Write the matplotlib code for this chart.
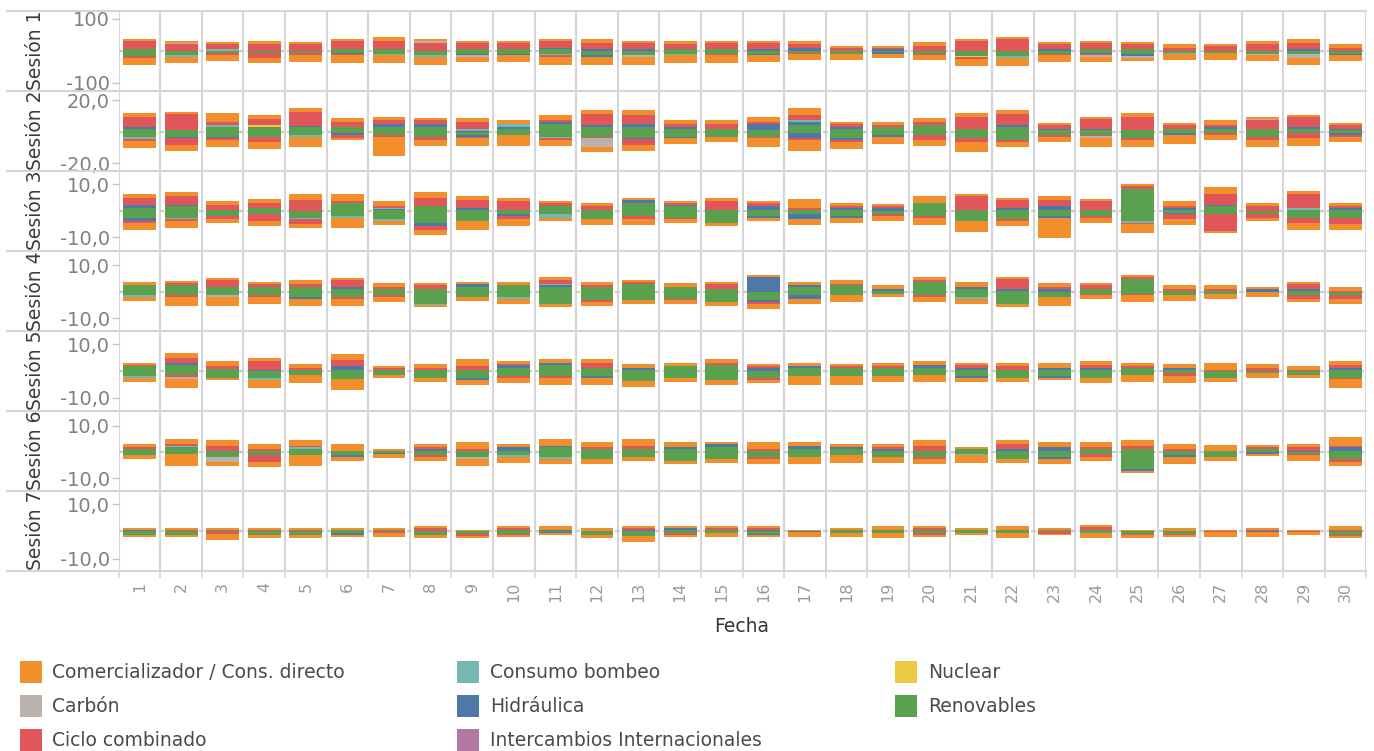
import numpy as np
import matplotlib
matplotlib.use("Agg")
import matplotlib.pyplot as plt
from matplotlib.lines import Line2D
from matplotlib.patches import Rectangle

# ---------------- data ----------------
DAYS = list(range(1, 31))
SESSIONS = ["Sesión 1", "Sesión 2", "Sesión 3", "Sesión 4", "Sesión 5", "Sesión 6", "Sesión 7"]

LEGEND_ORDER = ["Comercializador / Cons. directo", "Carbón", "Ciclo combinado",
                "Consumo bombeo", "Hidráulica", "Intercambios Internacionales",
                "Nuclear", "Renovables"]
COLORS = {
    "Comercializador / Cons. directo": "#F28E2B",
    "Carbón": "#BAB0AC",
    "Ciclo combinado": "#E15759",
    "Consumo bombeo": "#76B7B2",
    "Hidráulica": "#4E79A7",
    "Intercambios Internacionales": "#B07AA1",
    "Nuclear": "#EDC948",
    "Renovables": "#59A14F",
}
# stacking order from the zero line outwards
STACK_ORDER = ["Renovables", "Nuclear", "Hidráulica", "Consumo bombeo",
               "Ciclo combinado", "Carbón", "Comercializador / Cons. directo"]

Y_TICKS = [(-100, 100), (-20, 20), (-10, 10), (-10, 10), (-10, 10), (-10, 10), (-10, 10)]
Y_TICK_LABELS = [("-100", "100"), ("-20,0", "20,0"), ("-10,0", "10,0"), ("-10,0", "10,0"),
                 ("-10,0", "10,0"), ("-10,0", "10,0"), ("-10,0", "10,0")]

# one row per session (7), one value per day (30); positive and negative parts
REN_POS = [
    [5, 0, 0, 0, 0, 5, 5, 0, 5, 5, 5, 0, 0, 5, 5, 0, 0, 0, 0, 0, 0, 0, 0, 5, 5, 0, 0, 0, 0, 0],
    [1.7, 1.3, 2.9, 2.9, 2.9, 2.9, 2.9, 2.9, 0, 1.7, 4.8, 2.9, 2.9, 1.7, 1.7, 1.0, 4.2, 1.7, 2.9, 4.2, 1.7, 2.9, 1.0, 1.0, 1.0, 1.7, 1.7, 1.7, 1.7, 1.0],
    [1.0, 1.75, 0.25, 1.0, 0, 2.9, 0.25, 1.75, 0.25, 0.25, 1.75, 0.25, 2.9, 1.75, 0.25, 0.25, 0.25, 0.25, 0, 2.9, 0.25, 0.25, 0.25, 0.25, 8.1, 0.25, 1.75, 0, 0.25, 0.25],
    [2.5, 2.5, 1.75, 1.75, 1.75, 1.0, 1.0, 1.0, 1.75, 2.5, 1.75, 1.75, 2.9, 1.75, 1.0, 0, 1.75, 2.5, 0.25, 3.6, 1.0, 0.25, 0, 1.0, 4.75, 0.25, 0.25, 0, 0.25, 0],
    [1.9, 2.25, 0.75, 0, 0.4, 0.4, 0.4, 0.4, 0.4, 1.1, 2.25, 1.1, 0.4, 1.9, 2.25, 0, 1.1, 1.1, 1.1, 1.1, 0.4, 0.4, 0.4, 0.4, 1.1, 0.4, 0, 0, 0, 0.4],
    [1.1, 1.9, 0.4, 0.4, 1.1, 0.4, 0.4, 0.4, 0.4, 0.4, 1.9, 1.1, 1.1, 1.1, 1.9, 0.4, 1.1, 1.1, 0.4, 0.4, 1.1, 0.4, 0.4, 1.1, 1.1, 0.4, 0.4, 1.1, 0, 0.4],
    [0, 0, 0, 0, 0, 0.5, 0, 0, 0, 0.5, 0, 0, 0, 0.5, 0.5, 0, 0, 0.5, 0.5, 0.5, 0.5, 0.5, 0, 0.5, 0, 0, 0, 0, 0, 0],
]
REN_NEG = [
    [16, 15, 8, 8, 8, 6, 9, 15, 10, 10, 10, 15, 15, 10, 10, 9, 6, 9, 5, 9, 16, 16, 9, 7, 10, 6, 6, 9, 9, 9],
    [3.6, 3.2, 3.2, 3.4, 2.1, 0.8, 2.1, 3.4, 2.1, 2.1, 3.4, 3.4, 4.0, 3.4, 3.4, 3.4, 0.8, 4.0, 2.1, 2.1, 4.0, 5.3, 2.1, 2.1, 4.0, 0.8, 1.0, 3.4, 0.8, 0.8],
    [2.75, 2.75, 2.0, 1.25, 2.6, 2.0, 3.1, 4.6, 3.9, 1.25, 1.25, 3.1, 2.0, 2.75, 4.6, 2.0, 1.25, 2.0, 1.25, 2.0, 3.9, 3.1, 2.0, 2.0, 3.9, 0.9, 1.25, 1.25, 2.75, 2.75],
    [1.25, 1.25, 1.25, 1.25, 2.0, 2.0, 1.25, 4.6, 2.0, 2.0, 4.6, 3.1, 3.1, 2.75, 3.9, 3.1, 1.25, 1.25, 0.9, 1.25, 2.0, 4.6, 2.0, 0.9, 0.9, 1.25, 0.9, 0, 1.25, 1.25],
    [1.9, 1.5, 2.6, 2.6, 1.5, 3.0, 1.5, 2.6, 2.6, 1.9, 1.9, 1.9, 3.75, 2.6, 3.4, 2.6, 1.9, 1.9, 1.9, 1.5, 1.9, 2.6, 1.9, 2.6, 1.5, 0.75, 2.6, 0.75, 1.5, 2.6],
    [1.1, 0.75, 1.9, 1.1, 1.1, 1.1, 0.4, 1.1, 1.9, 1.1, 1.9, 2.6, 1.9, 3.4, 2.6, 1.9, 1.9, 1.1, 1.9, 1.9, 0.75, 2.6, 1.9, 0.75, 6.4, 1.1, 1.9, 0, 0.75, 2.6],
    [1.4, 1.4, 0.4, 1.4, 1.4, 0.6, 0.4, 1.4, 1.0, 1.0, 0.4, 1.4, 1.75, 0.6, 0.6, 1.0, 0, 0.6, 0.6, 0.6, 0.6, 0.6, 0.4, 0.6, 1.1, 1.0, 0, 0, 0, 1.4],
]
NUC_POS = [
    [0] * 30,
    [0, 0, 0, 1.3, 0, 0, 0, 0, 0, 0, 0, 0, 0, 0, 0, 0, 0, 0, 0, 0, 0, 0, 0, 0, 0, 0, 0, 0, 0, 0],
    [0] * 30, [0] * 30, [0] * 30, [0] * 30, [0] * 30,
]
NUC_NEG = [
    [0, 0, 0, 0, 0, 0, 0, 0, 0, 0, 0, 0, 0, 0, 0, 0, 0, 0, 0, 0, 4, 0, 0, 0, 0, 0, 0, 0, 0, 0],
    [0] * 30, [0] * 30, [0] * 30, [0] * 30, [0] * 30, [0] * 30,
]
HID_POS = [
    [0, 0, 0, 0, 0, 0, 0, 0, 0, 0, 4, 5, 5, 0, 0, 5, 8, 0, 5, 0, 0, 0, 5, 0, 0, 0, 0, 0, 5, 0],
    [1.3, 0, 0, 0, 0.6, 0, 1.9, 1.9, 0.6, 1.3, 1.3, 1.3, 1.9, 1.3, 0, 3.8, 1.9, 1.3, 0, 0, 0, 1.3, 0.6, 0.6, 0, 0, 1.3, 0, 1.3, 0.6],
    [1.1, 0.4, 0, 0, 0, 0, 0.4, 0, 0.75, 0, 0, 0, 1.1, 0.4, 0, 1.5, 0, 0.75, 1.0, 0, 0, 0.75, 1.5, 0, 0, 0.75, 0.4, 0, 0, 0.75],
    [0, 0, 0, 0, 0, 0.75, 0, 0, 1.1, 0, 0.75, 0, 0, 0, 0, 5.5, 0.75, 0, 0.75, 0, 0.75, 0.75, 1.0, 0, 0, 0, 0, 1.0, 0.75, 0],
    [0, 0.75, 0, 0.4, 0, 1.5, 0, 0, 0, 1.1, 0.75, 0, 0.75, 0, 0, 1.1, 0.75, 0, 0, 1.1, 0.75, 0, 0.75, 0.75, 0, 0.75, 0, 0, 0, 0.75],
    [0, 0, 0, 0, 0, 0, 0, 0.75, 0, 1.5, 0.4, 0, 0, 0.75, 1.1, 0, 1.1, 0.75, 0.75, 0, 0, 0.75, 1.5, 0, 0, 0, 0, 0, 0.4, 1.5],
    [0.5, 0, 0, 0, 0, 0, 0, 0, 0, 0, 0.5, 0, 0.5, 0.75, 0, 0.5, 0, 0, 0, 0, 0, 0, 0, 0, 0, 0, 0, 0, 0, 0],
]
HID_NEG = [
    [0, 0, 0, 0, 0, 3, 0, 0, 5, 5, 0, 5, 0, 0, 0, 5, 0, 0, 4, 0, 0, 0, 0, 2, 6, 0, 0, 0, 0, 6],
    [0, 0.6, 0.8, 0, 0, 1.3, 0, 0, 1.3, 0, 0, 0, 0.6, 0.6, 0, 0, 3.2, 1.3, 1.3, 0, 0, 0, 0, 0, 0, 1.3, 0, 0, 0, 1.3],
    [1.1, 0, 0, 0, 0, 0, 0, 1.1, 0, 0.75, 0, 0, 0, 0, 0, 0.75, 1.9, 0.75, 0, 0, 0, 0, 0.75, 0, 0, 0.4, 0, 0, 0, 0],
    [0, 0, 0, 0, 0.75, 0, 0, 0, 0, 0, 0, 0, 0, 0, 0, 0.75, 1.5, 0, 0, 0, 0, 0, 0, 0, 0, 0, 0, 0, 0, 0],
    [0, 0, 0, 0, 0, 0, 0, 0, 0.75, 0, 0, 0.75, 0, 0, 0, 0, 0, 0, 0, 0, 0.75, 0, 0.75, 0, 0, 0, 0, 0, 0, 0],
    [0, 0, 0, 0, 0, 0.75, 0.4, 0, 0, 0, 0, 0, 0, 0, 0, 0, 0, 0, 0, 0, 0, 0, 0.75, 0, 0.75, 0.75, 0, 0.75, 0, 0],
    [0, 0, 0, 0, 0, 0.75, 0, 0, 0, 0, 0.25, 0, 0, 0, 0, 0.4, 0.4, 0, 0, 0, 0, 0, 0, 0, 0, 0, 0, 0.4, 0, 0],
]
BOM_POS = [
    [0, 0, 5, 0, 0, 0, 0, 0, 0, 0, 0, 0, 0, 0, 0, 0, 0, 0, 0, 0, 0, 0, 0, 0, 0, 0, 0, 0, 0, 0],
    [0, 0, 1.3, 0, 0, 0, 0, 0, 1.0, 1.9, 0, 0, 0, 0, 0, 0, 1.3, 0, 0, 0, 0, 0, 0, 0, 0, 0, 0, 0, 0, 0],
    [0, 0, 0, 0, 0, 0, 0.4, 0, 0, 0, 0, 0, 0, 0, 0, 0, 0, 0, 0, 0, 0, 0, 0, 0, 0, 0, 0, 0, 0.75, 0],
    [0, 0, 0, 0, 0, 0, 0, 0, 0, 0, 0.4, 0, 0, 0, 0, 0, 0, 0, 0, 0, 0, 0, 0, 0, 0, 0, 0, 0, 0, 0],
    [0] * 30,
    [0, 0.4, 0, 0, 0.75, 0, 0, 0, 0, 0, 0, 0, 0, 0, 0, 0, 0, 0, 0, 0, 0, 0, 0, 0, 0, 0, 0, 0, 0, 0],
    [0] * 30,
]
BOM_NEG = [
    [0, 6, 0, 0, 0, 0, 6, 6, 0, 0, 5, 0, 0, 5, 0, 0, 0, 0, 0, 0, 0, 6, 0, 0, 0, 3, 0, 0, 0, 0],
    [1.0, 0, 0, 0, 1.3, 0, 0, 0, 0, 0, 0.6, 0, 0, 0, 0, 0, 0, 0, 0, 0, 0, 0, 0, 0, 0, 0, 0, 0, 0, 0],
    [0, 0.4, 0, 0, 0.4, 0.75, 0.75, 0, 0, 0, 1.5, 0, 0, 0, 0, 0, 0, 0, 0, 0, 0, 0, 0, 0, 0.75, 0, 0, 0, 0, 0],
    [0.75, 0, 0, 0, 0, 0, 0, 0.4, 0, 0.75, 0, 0, 0, 0, 0, 0, 0, 0, 0, 0, 0.75, 0, 0, 0, 0, 0, 0, 0, 0, 0],
    [0.75, 0, 0, 0.75, 0, 0, 0, 0, 0, 0, 0, 0, 0, 0, 0, 0, 0, 0, 0, 0, 0, 0, 0, 0, 0, 0, 0, 0, 0, 0],
    [0, 0, 0, 0, 0, 0, 0, 0, 0, 0.75, 0.75, 0, 0, 0, 0, 0, 0, 0, 0, 0, 0.4, 0, 0, 0, 0, 0, 0, 0, 0, 0],
    [0] * 30,
]
CC_POS = [
    [25, 21, 16, 21, 21, 25, 25, 24, 19, 19, 21, 19, 19, 16, 19, 19, 13, 8, 3, 15, 30, 37, 16, 19, 16, 8, 15, 21, 19, 8],
    [6.3, 9.9, 1.9, 3.8, 8.8, 3.2, 2.5, 2.5, 4.4, 0, 1.3, 6.9, 5.7, 1.9, 3.2, 1.3, 3.2, 1.9, 1.3, 1.9, 7.6, 6.9, 2.5, 6.3, 8.2, 2.5, 1.3, 5.7, 6.3, 2.5],
    [2.6, 3.4, 1.9, 1.9, 4.0, 0.75, 0.75, 3.0, 3.0, 3.4, 1.1, 1.5, 0, 0.75, 3.4, 1.1, 0.75, 0.75, 0.75, 0, 5.25, 3.0, 2.25, 3.4, 1.1, 0.75, 4.1, 1.75, 5.25, 0.75],
    [0, 0.75, 2.6, 1.1, 1.1, 2.6, 0.75, 1.5, 0, 0, 1.5, 0.75, 0.75, 0, 1.9, 0, 0, 0.4, 0, 0.75, 0, 3.75, 0.75, 1.5, 0.75, 0.75, 0.75, 0, 1.9, 0.25],
    [0.4, 1.9, 1.1, 3.4, 0.75, 2.25, 0.75, 0.75, 1.5, 0.4, 0, 1.9, 0, 0, 0.75, 0.75, 0, 0.75, 0.75, 0, 1.1, 1.5, 0, 1.1, 0.75, 0, 0.4, 1.1, 0.4, 1.1],
    [0.75, 0.75, 1.9, 0.75, 0.4, 0, 0, 0.75, 0.75, 0, 0, 0.75, 1.1, 0, 0, 0.75, 0, 0, 0.75, 1.9, 0, 1.9, 0, 0.75, 1.1, 0.75, 0, 0.75, 1.5, 0.4],
    [0, 0.5, 0.5, 0.5, 0.5, 0, 0.5, 1.25, 0, 0.75, 0, 0, 0.75, 0, 0.75, 0.75, 0, 0, 0, 0.75, 0, 0, 0.5, 1.1, 0, 0, 0, 0.5, 0, 0.5],
]
CC_NEG = [
    [6, 0, 6, 14, 4, 6, 0, 0, 0, 0, 6, 0, 0, 0, 5, 0, 3, 0, 0, 6, 5, 0, 6, 4, 0, 0, 0, 0, 0, 0],
    [1.3, 4.6, 1.3, 3.2, 0, 1.9, 1.3, 1.9, 0.6, 0, 1.3, 0.6, 3.8, 0, 0, 0.6, 1.3, 1.3, 0, 3.2, 2.5, 1.3, 1.3, 0.6, 1.3, 0, 1.0, 1.9, 3.2, 1.3],
    [0.75, 0.75, 1.1, 2.6, 1.9, 0, 0, 1.5, 0, 1.1, 0, 0, 1.1, 0.4, 0, 0, 0, 0, 0.75, 0.75, 0, 0.75, 0, 0.75, 0.4, 1.9, 6.4, 1.5, 1.9, 2.25],
    [0, 0.75, 0, 0.75, 0, 0.75, 0.75, 0, 0, 0, 0, 0.75, 0, 0.4, 0, 0.75, 0, 0, 0, 0.75, 0, 0, 0, 0.4, 0.4, 0, 0, 0, 1.5, 1.5],
    [0, 0.75, 0, 0, 0, 0, 0, 0, 0, 0.75, 0.75, 0, 0, 0, 0, 0.75, 0, 0, 0, 0, 0, 0, 0, 0, 0, 1.1, 0, 0, 0, 0.4],
    [0, 0, 0, 2.6, 0, 0, 0, 0.75, 0, 0, 0, 0, 0, 0, 0, 0.75, 0, 0, 0, 0.75, 0, 0, 0, 1.1, 0, 0, 0, 0, 0.4, 1.1],
    [0, 0, 0.6, 0, 0, 0, 0.25, 0, 0.75, 0.4, 0, 0, 0, 0.75, 0, 0, 0, 0, 0, 0.75, 0, 0, 0.4, 0, 0.4, 0.4, 0.4, 0, 0.4, 0.4],
]
CAR_POS = [
    [0, 3, 0, 0, 0, 0, 0, 6, 0, 0, 0, 0, 0, 0, 0, 0, 0, 0, 0, 0, 0, 0, 0, 0, 0, 0, 0, 0, 0, 0],
    [0, 0, 0, 0, 0, 0, 0, 0, 0, 0, 0, 0, 0, 0, 0, 0, 0, 0, 0, 0, 0, 0, 0, 0, 0, 0, 0, 0.6, 0, 0],
    [0] * 30, [0] * 30, [0] * 30, [0] * 30, [0] * 30,
]
CAR_NEG = [
    [0, 0, 0, 0, 0, 0, 0, 0, 6, 0, 0, 0, 6, 0, 0, 0, 0, 0, 0, 0, 0, 0, 0, 6, 6, 0, 0, 6, 13, 0],
    [0, 0, 0, 0, 0, 0, 0, 0, 0, 0, 0, 5.7, 0, 0, 0, 0, 0, 0, 0, 0, 0, 0, 0, 1.0, 0, 0, 0, 0, 0, 0],
    [0] * 30,
    [0, 0, 0.75, 0, 0, 0, 0, 0, 0, 0, 0, 0, 0, 0, 0, 0, 0, 0, 0, 0, 0, 0, 0, 0, 0, 0, 0, 0, 0, 0],
    [0, 0.75, 0, 0, 0, 0, 0, 0, 0, 0, 0, 0, 0, 0, 0, 0, 0, 0, 0, 0, 0, 0, 0, 0, 0, 0, 0, 0, 0, 0],
    [0, 0, 1.9, 0, 0, 0, 0, 0, 0.75, 0, 0, 0, 0, 0, 0, 0, 0, 0, 0, 0, 0, 0, 0, 0, 0, 0, 0, 0, 0, 0],
    [0] * 30,
]
COM_POS = [
    [6, 6, 6, 9, 6, 6, 13, 6, 6, 6, 6, 13, 6, 9, 6, 6, 9, 6, 6, 13, 6, 6, 6, 6, 6, 13, 6, 9, 13, 13],
    [2.3, 1.3, 5.5, 2.5, 2.5, 2.5, 1.9, 1.3, 2.5, 2.5, 3.2, 2.5, 3.2, 2.5, 2.5, 3.2, 4.4, 1.3, 1.9, 2.5, 2.5, 2.5, 1.3, 1.3, 2.5, 1.3, 3.2, 1.3, 1.3, 1.3],
    [1.5, 1.5, 1.5, 1.5, 2.25, 2.6, 1.9, 2.25, 1.5, 1.1, 0.75, 1.1, 0.75, 0.75, 1.1, 0.75, 3.4, 1.1, 0.75, 2.6, 0.75, 0.75, 1.5, 0.75, 0.75, 1.9, 2.6, 1.1, 1.1, 1.1],
    [1.1, 0.75, 0.75, 0.75, 1.5, 0.75, 1.5, 0.75, 0.75, 1.1, 1.1, 1.1, 0.75, 1.5, 0.75, 0.75, 1.1, 1.5, 1.5, 1.1, 1.9, 0.75, 1.5, 0.75, 0.75, 1.5, 1.5, 0.75, 0.75, 1.5],
    [0.75, 1.9, 1.9, 1.1, 1.5, 2.25, 0.75, 1.5, 2.6, 1.1, 1.5, 1.5, 1.5, 1.1, 1.5, 0.75, 1.1, 0.75, 1.1, 1.5, 0.75, 1.1, 1.9, 1.5, 1.1, 1.5, 2.6, 1.5, 1.5, 1.5],
    [1.1, 1.9, 2.25, 1.9, 2.25, 2.6, 0.75, 1.1, 2.6, 1.1, 2.6, 1.9, 2.6, 1.9, 0.75, 2.6, 1.5, 1.1, 1.1, 2.25, 0.75, 1.5, 1.9, 1.9, 2.25, 1.9, 2.25, 0.75, 1.1, 3.4],
    [0.75, 0.75, 0.75, 0.75, 0.75, 0.75, 0.75, 0.75, 0.4, 0.75, 1.5, 1.25, 0.75, 0.75, 0.75, 0.75, 0.5, 0.75, 1.5, 0.75, 0.75, 1.5, 0.75, 0.75, 0.5, 1.25, 0.5, 0.75, 0.5, 1.5],
]
COM_NEG = [
    [23, 17, 17, 16, 23, 23, 23, 23, 16, 22, 23, 24, 23, 23, 23, 23, 19, 19, 13, 13, 22, 25, 22, 16, 9, 19, 22, 16, 22, 16],
    [4.6, 3.8, 4.4, 4.4, 6.3, 1.3, 12.0, 3.8, 5.0, 6.9, 3.8, 3.2, 3.8, 3.8, 3.2, 5.7, 6.9, 4.4, 4.4, 3.8, 6.3, 3.2, 3.2, 5.9, 4.4, 5.7, 3.2, 4.4, 5.0, 3.2],
    [2.6, 2.6, 1.5, 1.9, 1.5, 3.75, 1.5, 1.9, 3.4, 2.6, 1.1, 2.25, 2.25, 1.5, 1.1, 1.1, 2.25, 1.9, 1.9, 2.6, 4.1, 1.9, 7.5, 1.9, 3.4, 2.25, 0.75, 1.1, 2.6, 2.25],
    [1.5, 3.4, 3.4, 2.6, 2.6, 2.6, 1.9, 0.75, 1.5, 1.9, 1.1, 1.5, 1.5, 1.5, 1.5, 1.9, 1.9, 2.6, 1.1, 1.9, 1.9, 1.1, 3.4, 1.5, 2.6, 2.25, 1.9, 2.0, 1.1, 1.9],
    [1.5, 3.4, 0.75, 3.0, 3.0, 4.1, 1.1, 1.5, 1.9, 1.9, 2.6, 2.6, 2.25, 1.5, 1.9, 1.1, 3.4, 3.4, 2.25, 2.6, 1.5, 1.5, 0.75, 1.9, 2.6, 2.6, 1.5, 1.9, 1.1, 3.4],
    [1.5, 4.5, 1.5, 2.25, 4.1, 1.5, 1.5, 1.5, 2.6, 2.25, 1.9, 1.9, 1.5, 1.1, 1.5, 1.9, 2.6, 3.0, 2.25, 1.9, 3.0, 1.5, 1.9, 1.5, 0.75, 2.6, 1.5, 0.75, 2.25, 1.5],
    [0.75, 0.75, 2.25, 1.1, 1.1, 0.75, 1.5, 1.1, 0.75, 0.75, 0.75, 1.1, 2.25, 0.75, 1.5, 0.75, 1.5, 1.5, 1.9, 0.75, 0.75, 1.9, 0.4, 1.9, 0.75, 0.75, 1.5, 1.5, 0.75, 0.75],
]

POS = {"Renovables": REN_POS, "Nuclear": NUC_POS, "Hidráulica": HID_POS,
       "Consumo bombeo": BOM_POS, "Ciclo combinado": CC_POS, "Carbón": CAR_POS,
       "Comercializador / Cons. directo": COM_POS}
NEG = {"Renovables": REN_NEG, "Nuclear": NUC_NEG, "Hidráulica": HID_NEG,
       "Consumo bombeo": BOM_NEG, "Ciclo combinado": CC_NEG, "Carbón": CAR_NEG,
       "Comercializador / Cons. directo": COM_NEG}

# ---------------- layout / style ----------------
W, H = 1374, 751
L_PX, R_PX = 118.7, 1366.3
TOP_PX, ROW_H = 10.7, 80.0
Y_LIMS = [(-125.6, 125.6), (-24.6, 25.9), (-15.0, 15.0), (-14.8, 15.6),
          (-14.9, 15.0), (-14.8, 15.7), (-14.4, 14.9)]
GRID = "#d6d6d6"
BAR_W = 0.79

plt.rcParams["font.family"] = ["DejaVu Sans"]
fig = plt.figure(figsize=(W / 100, H / 100), dpi=100)

for i in range(7):
    top = TOP_PX + i * ROW_H
    ax = fig.add_axes([L_PX / W, 1 - (top + ROW_H) / H, (R_PX - L_PX) / W, ROW_H / H])
    ax.set_xlim(0.5, 30.5)
    ax.set_ylim(*Y_LIMS[i])
    for s in ax.spines.values():
        s.set_visible(False)
    for k in range(31):
        ax.axvline(0.5 + k, color=GRID, lw=1.5, zorder=0)
    ax.axhline(0, color="#cbcbcb", lw=1.6, ls=(0, (2.2, 1.4)), zorder=0.5)

    pos_base = np.zeros(30)
    neg_base = np.zeros(30)
    for cat in STACK_ORDER:
        p = np.array(POS[cat][i], dtype=float)
        n = np.array(NEG[cat][i], dtype=float)
        assert len(p) == 30 and len(n) == 30, (cat, i)
        ax.bar(DAYS, p, bottom=pos_base, width=BAR_W, color=COLORS[cat], lw=0, zorder=2)
        ax.bar(DAYS, -n, bottom=-neg_base, width=BAR_W, color=COLORS[cat], lw=0, zorder=2)
        pos_base += p
        neg_base += n

    ax.set_yticks(list(Y_TICKS[i]))
    ax.set_yticklabels(list(Y_TICK_LABELS[i]))
    ax.tick_params(axis="y", length=5, width=1, color="#c4c4c4",
                   labelcolor="#808080", labelsize=14, pad=1.5)

    if i < 6:
        ax.set_xticks([])
    else:
        ax.set_xticks([0.5 + k for k in range(31)])
        ax.set_xticklabels([])
        ax.tick_params(axis="x", which="major", length=5, width=1.2, color=GRID)
        ax.set_xticks(DAYS, minor=True)
        ax.set_xticklabels([str(d) for d in DAYS], minor=True, rotation=90)
        ax.tick_params(axis="x", which="minor", length=0, labelsize=11.5,
                       labelcolor="#9a9a9a", pad=8)
        for lab in ax.get_xticklabels(minor=True):
            lab.set_verticalalignment("top")

    fig.text(35.5 / W, 1 - (top + ROW_H / 2) / H, SESSIONS[i], rotation=90,
             ha="center", va="center", fontsize=13.5, color="#3c3c3c")

# horizontal row separators (extend across the row-label area)
for k in range(8):
    y = 1 - (TOP_PX + k * ROW_H) / H
    fig.add_artist(Line2D([7 / W, R_PX / W], [y, y], color=GRID, lw=1.5))

# x axis title
fig.text(742 / W, 1 - 626 / H, "Fecha", ha="center", va="center",
         fontsize=13.5, color="#333333")

# legend
SW_X = [20, 457, 895]
TX_X = [52, 490, 928]
ROW_Y = [672, 706, 740]
for idx, cat in enumerate(LEGEND_ORDER):
    col, row = divmod(idx, 3)
    yc = ROW_Y[row]
    fig.add_artist(Rectangle((SW_X[col] / W, 1 - (yc + 11) / H), 22 / W, 22 / H,
                             transform=fig.transFigure, color=COLORS[cat], lw=0))
    fig.text(TX_X[col] / W, 1 - yc / H, cat, ha="left", va="center",
             fontsize=13.5, color="#4a4a4a")

fig.savefig("out.png", dpi=100)
